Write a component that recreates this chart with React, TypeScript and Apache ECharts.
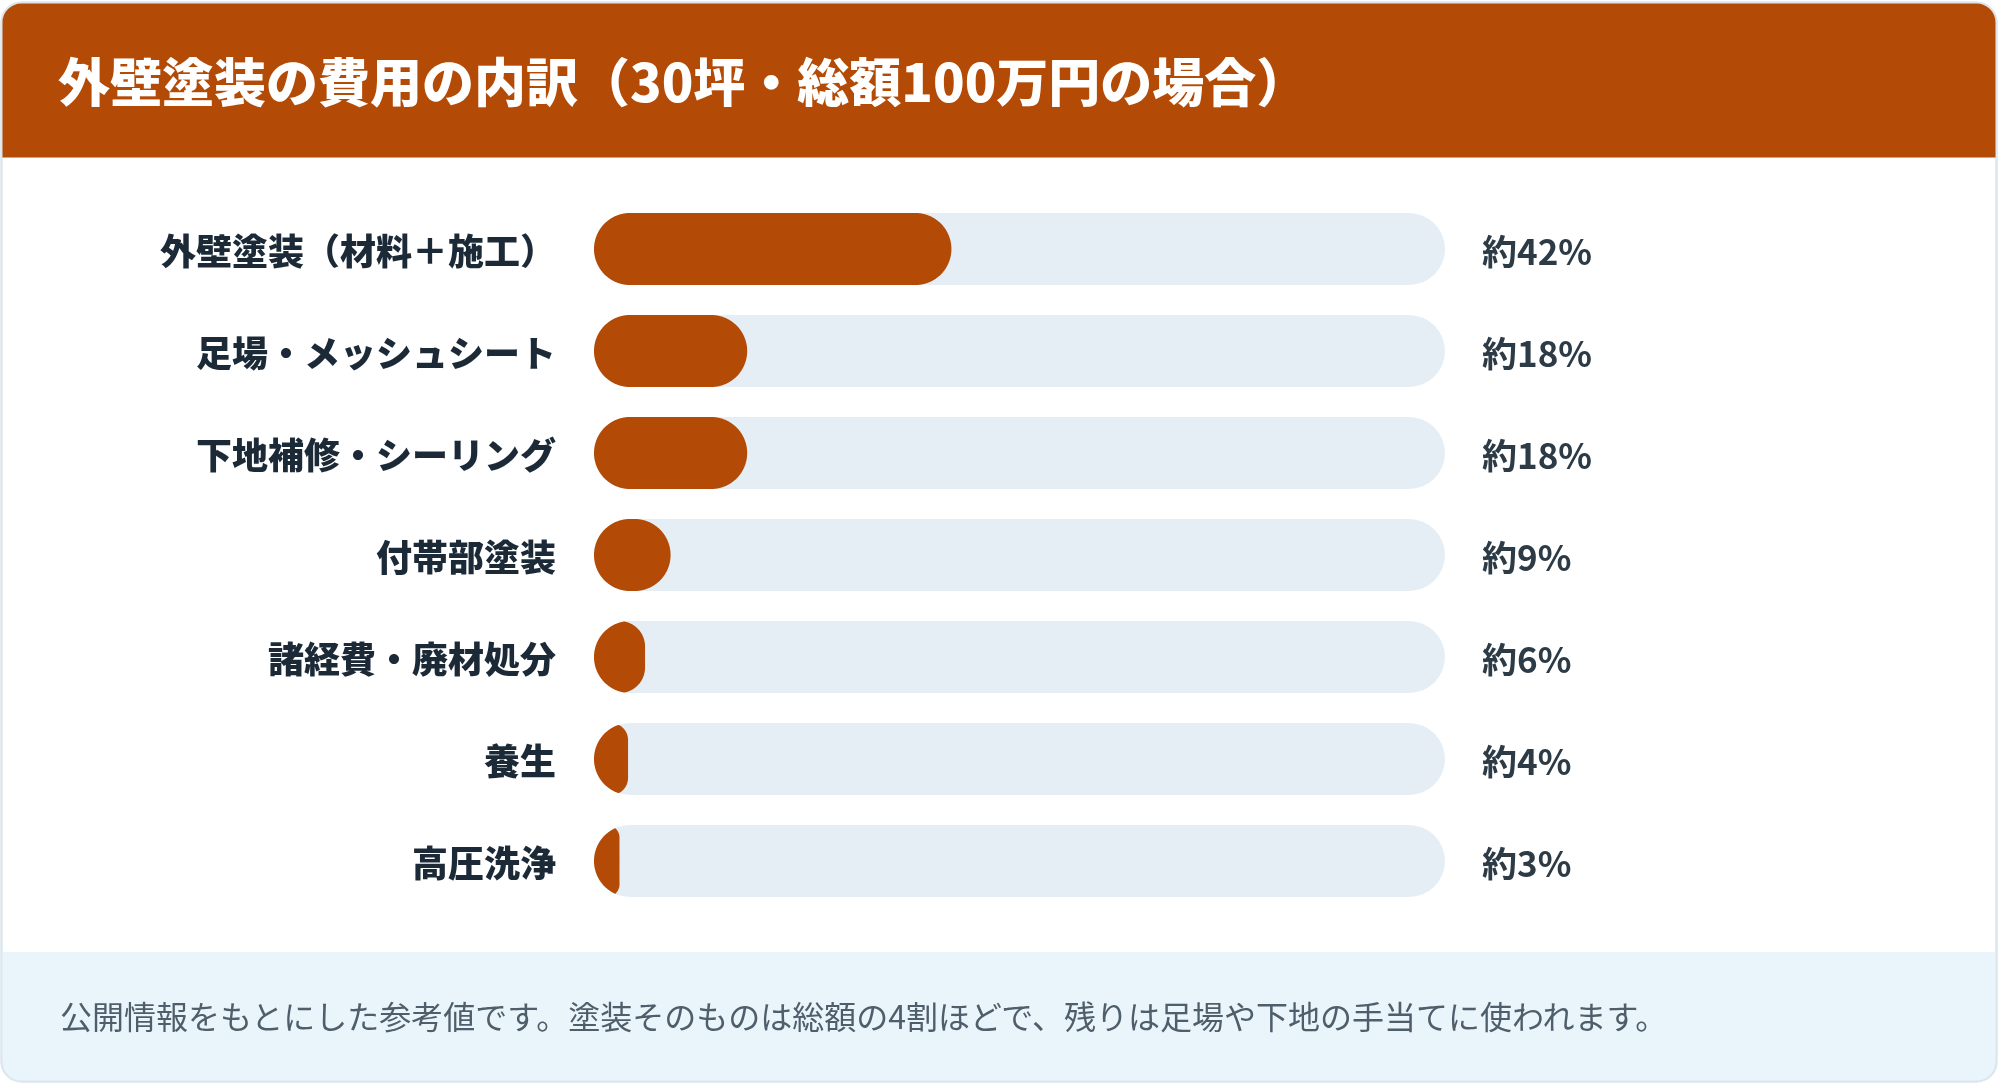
import React, { useEffect, useRef } from "react";
import * as echarts from "echarts";

const TITLE = "外壁塗装の費用の内訳（30坪・総額100万円の場合）";
const NOTE = "公開情報をもとにした参考値です。塗装そのものは総額の4割ほどで、残りは足場や下地の手当てに使われます。";
const CATEGORIES = [
  "外壁塗装（材料＋施工）",
  "足場・メッシュシート",
  "下地補修・シーリング",
  "付帯部塗装",
  "諸経費・廃材処分",
  "養生",
  "高圧洗浄",
];
const VALUES = [42, 18, 18, 9, 6, 4, 3];
const TRACK_MAX = [100, 100, 100, 100, 100, 100, 100];

const FONT = "'Noto Sans CJK JP', 'Noto Sans', sans-serif";
const ORANGE = "#B34A05";
const TRACK = "#E6EEF5";
const BAR_H = 72;

export default function App() {
  const ref = useRef<HTMLDivElement>(null);
  useEffect(() => {
    document.body.style.margin = "0";
    const chart = echarts.init(ref.current!, null, { renderer: "svg" });
    const option: any = {
      animation: false,
      textStyle: { fontFamily: FONT },
      graphic: [
        {
          type: "rect",
          z: 0,
          shape: { x: 1.5, y: 2.5, width: 1995, height: 1079, r: 20 },
          style: { fill: "#ffffff", stroke: "#dbe6ee", lineWidth: 2 },
        },
        {
          type: "rect",
          z: 1,
          shape: { x: 1.5, y: 2.5, width: 1995, height: 155, r: [20, 20, 0, 0] },
          style: { fill: ORANGE },
        },
        {
          type: "rect",
          z: 1,
          shape: { x: 1.5, y: 952, width: 1995, height: 129.5, r: [0, 0, 20, 20] },
          style: { fill: "#E9F5FB" },
        },
        {
          type: "rect",
          z: 2,
          shape: { x: 1.5, y: 2.5, width: 1995, height: 1079, r: 20 },
          style: { fill: "none", stroke: "#dbe6ee", lineWidth: 2 },
        },
        {
          type: "text",
          z: 3,
          x: 58,
          y: 79,
          style: {
            text: TITLE,
            fontSize: 52,
            fontWeight: 900,
            fill: "#ffffff",
            fontFamily: FONT,
            verticalAlign: "middle",
            align: "left",
          },
        },
        {
          type: "text",
          z: 3,
          x: 60,
          y: 1015,
          style: {
            text: NOTE,
            fontSize: 32,
            fill: "#4f5e6b",
            fontFamily: FONT,
            verticalAlign: "middle",
            align: "left",
          },
        },
      ],
      grid: { left: 594, width: 851, top: 198, height: 714 },
      xAxis: { type: "value", min: 0, max: 100, show: false },
      yAxis: {
        type: "category",
        data: CATEGORIES,
        inverse: true,
        axisLine: { show: false },
        axisTick: { show: false },
        splitLine: { show: false },
        axisLabel: {
          margin: 38,
          fontSize: 36,
          fontWeight: 900,
          color: "#1c2a38",
          fontFamily: FONT,
          padding: [0, 0, 5, 0],
        },
      },
      series: [
        {
          type: "bar",
          data: TRACK_MAX,
          barWidth: BAR_H,
          silent: true,
          z: 2,
          itemStyle: { color: TRACK, borderRadius: BAR_H / 2 },
          label: {
            show: true,
            position: "right",
            distance: 37,
            formatter: (p: any) => `約${VALUES[p.dataIndex]}%`,
            fontSize: 35,
            fontWeight: "bold",
            color: "#2d3b47",
            fontFamily: FONT,
            padding: [0, 0, 5, 0],
          },
        },
        {
          type: "custom",
          z: 3,
          data: VALUES.map((v, i) => [v, i]),
          encode: { x: 0, y: 1 },
          renderItem: (params: any, api: any) => {
            const v = api.value(0);
            const idx = api.value(1);
            const start = api.coord([0, idx]);
            const end = api.coord([v, idx]);
            const x0 = start[0];
            const w = end[0] - x0;
            const cy = start[1];
            const R = BAR_H / 2;
            const top = cy - R;
            const r = Math.min(R, w / 2);
            const N = 160;
            const rows: number[][] = [];
            for (let i = 0; i <= N; i++) {
              const t = (Math.PI * i) / N;
              const y = cy - R * Math.cos(t);
              const dyc = y - cy;
              const tl = x0 + R - Math.sqrt(Math.max(0, R * R - dyc * dyc));
              let fl = x0;
              let fr = x0 + w;
              const d = Math.min(y - top, top + BAR_H - y);
              if (d < r) {
                const k = r - Math.sqrt(Math.max(0, r * r - (r - d) * (r - d)));
                fl = x0 + k;
                fr = x0 + w - k;
              }
              const l = Math.max(tl, fl);
              if (l <= fr) rows.push([l, fr, y]);
            }
            const pts: number[][] = [];
            rows.forEach((q) => pts.push([q[0], q[2]]));
            for (let i = rows.length - 1; i >= 0; i--) pts.push([rows[i][1], rows[i][2]]);
            return {
              type: "polygon",
              shape: { points: pts },
              style: { fill: ORANGE },
            };
          },
        },
      ],
    };
    chart.setOption(option);
    return () => chart.dispose();
  }, []);
  return (
    <div
      ref={ref}
      style={{ position: "fixed", left: 0, top: 0, width: 2000, height: 1086 }}
    />
  );
}
